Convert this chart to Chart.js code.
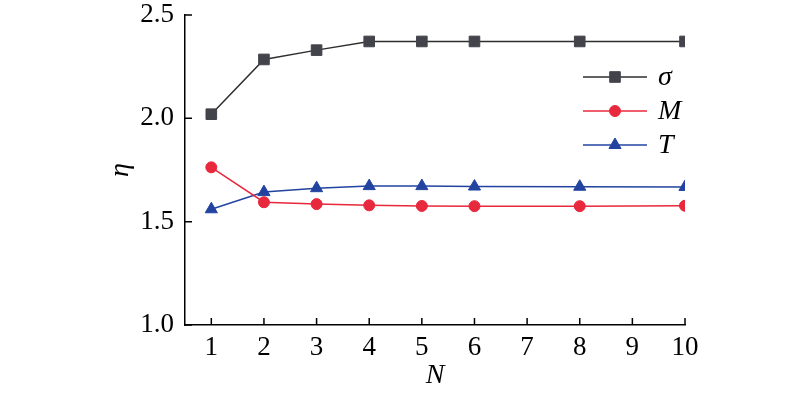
<!DOCTYPE html>
<html>
<head>
<meta charset="utf-8">
<script src="https://cdn.jsdelivr.net/npm/chart.js@4/dist/chart.umd.min.js"></script>
<style>
  html, body { margin: 0; padding: 0; background: #fff; }
  #wrap { width: 800px; height: 396px; }
</style>
</head>
<body>
<div id="wrap"><canvas id="myChart"></canvas></div>
<script>
// data
const nValues = [1, 2, 3, 4, 5, 6, 8, 10];
const sigmaValues = [2.02, 2.285, 2.33, 2.372, 2.372, 2.372, 2.372, 2.372];
const mValues = [1.763, 1.594, 1.585, 1.579, 1.576, 1.575, 1.575, 1.577];
const tValues = [1.56, 1.643, 1.662, 1.672, 1.672, 1.670, 1.669, 1.668];
const xTicks = [1, 2, 3, 4, 5, 6, 7, 8, 9, 10];
const yTicks = [1.0, 1.5, 2.0, 2.5];
const seriesNames = ['σ', 'M', 'T'];

const FONT = "'Liberation Serif', 'Times New Roman', serif";

function pts(ys) {
    return nValues.map((x, i) => ({ x: x, y: ys[i] }));
}

// tick marks point into the plot
const innerTicks = {
    id: 'innerTicks',
    afterDraw(chart) {
        const ctx = chart.ctx;
        const xs = chart.scales.x, ys = chart.scales.y;
        const a = chart.chartArea;
        ctx.save();
        ctx.strokeStyle = '#000';
        ctx.lineWidth = 1.5;
        ctx.beginPath();
        xs.ticks.forEach(t => {
            const px = xs.getPixelForValue(t.value);
            ctx.moveTo(px, a.bottom);
            ctx.lineTo(px, a.bottom - 7);
        });
        ys.ticks.forEach(t => {
            const py = ys.getPixelForValue(t.value);
            ctx.moveTo(a.left, py);
            ctx.lineTo(a.left + 7, py);
        });
        ctx.stroke();
        ctx.restore();
    }
};

// legend drawn inside the plot, top right
const innerLegend = {
    id: 'innerLegend',
    afterDraw(chart) {
        const ctx = chart.ctx;
        const x0 = 583, x1 = 647, y0 = 77, dy = 34;
        chart.data.datasets.forEach((ds, i) => {
            const y = y0 + i * dy;
            ctx.save();
            ctx.strokeStyle = ds.borderColor;
            ctx.lineWidth = ds.borderWidth;
            ctx.beginPath();
            ctx.moveTo(x0, y);
            ctx.lineTo(x1, y);
            ctx.stroke();
            ctx.fillStyle = ds.pointBackgroundColor;
            ctx.strokeStyle = ds.pointBorderColor;
            ctx.lineWidth = 1;
            Chart.helpers.drawPoint(ctx, { pointStyle: ds.pointStyle, radius: ds.pointRadius, borderWidth: 1 }, (x0 + x1) / 2, y);
            ctx.fillStyle = '#000';
            ctx.font = 'italic 28px ' + FONT;
            ctx.textBaseline = 'middle';
            ctx.fillText(seriesNames[i], 658, y + 1);
            ctx.restore();
        });
    }
};

const ctx = document.getElementById('myChart').getContext('2d');
new Chart(ctx, {
    type: 'line',
    data: {
        datasets: [{
            label: seriesNames[0],
            data: pts(sigmaValues),
            borderColor: '#2e2e2e',
            borderWidth: 1.5,
            pointStyle: 'rect',
            pointRadius: 7.5,
            pointBackgroundColor: '#43434b',
            pointBorderColor: '#43434b',
            pointBorderWidth: 1
        }, {
            label: seriesNames[1],
            data: pts(mValues),
            borderColor: '#e8283c',
            borderWidth: 1.5,
            pointStyle: 'circle',
            pointRadius: 5.5,
            pointBackgroundColor: '#e8283c',
            pointBorderColor: '#e8283c',
            pointBorderWidth: 1
        }, {
            label: seriesNames[2],
            data: pts(tValues),
            borderColor: '#2244a0',
            borderWidth: 1.5,
            pointStyle: 'triangle',
            pointRadius: 7,
            pointBackgroundColor: '#2244a0',
            pointBorderColor: '#2244a0',
            pointBorderWidth: 1
        }]
    },
    options: {
        responsive: true,
        maintainAspectRatio: false,
        animation: false,
        layout: { padding: { top: 15, right: 115, left: 98, bottom: 0 } },
        plugins: {
            legend: { display: false },
            tooltip: { enabled: false }
        },
        scales: {
            x: {
                type: 'linear',
                min: 0.5,
                max: 10,
                afterBuildTicks: s => { s.ticks = xTicks.map(v => ({ value: v })); },
                afterFit: s => { s.height = 71; s.paddingLeft = 0; s.paddingRight = 0; },
                grid: { drawOnChartArea: false, drawTicks: false },
                border: { color: '#000', width: 1.5 },
                ticks: { color: '#000', font: { family: FONT, size: 27 }, padding: 7, maxRotation: 0 },
                title: { display: true, text: 'N', color: '#000', font: { family: FONT, size: 28, style: 'italic' }, padding: { top: 2 } }
            },
            y: {
                min: 1.0,
                max: 2.5,
                afterBuildTicks: s => { s.ticks = yTicks.map(v => ({ value: v })); },
                afterFit: s => { s.width = 87; s.paddingTop = 0; s.paddingBottom = 0; },
                grid: { drawOnChartArea: false, drawTicks: false },
                border: { color: '#000', width: 1.5 },
                ticks: { color: '#000', font: { family: FONT, size: 27 }, padding: 11, callback: v => v.toFixed(1) },
                title: { display: true, text: 'η', color: '#000', font: { family: FONT, size: 28, style: 'italic' }, padding: { top: 6, bottom: 0 } }
            }
        }
    },
    plugins: [innerTicks, innerLegend]
});
</script>
</body>
</html>
